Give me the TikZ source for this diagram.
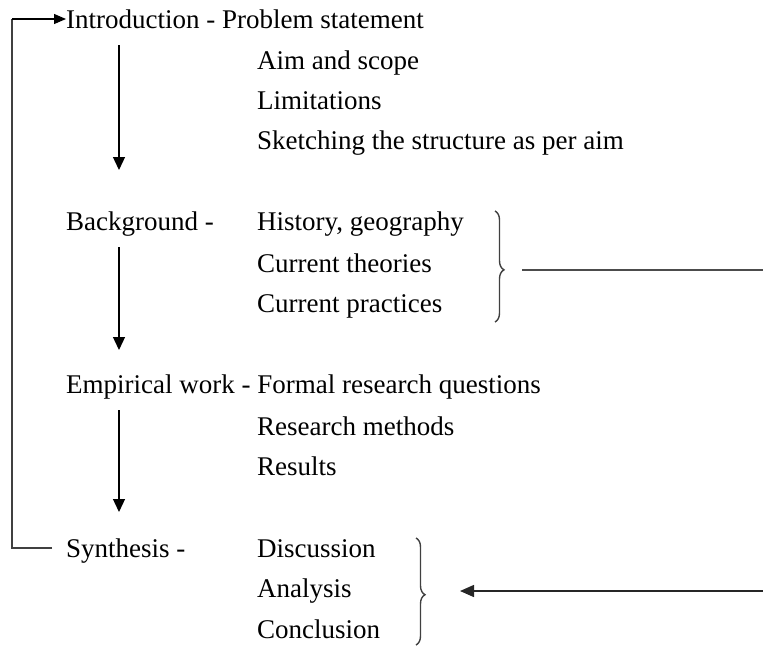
\documentclass[tikz,border=0pt]{standalone}
\usepackage{fontspec}
\setmainfont{Liberation Serif}
\usetikzlibrary{arrows.meta,decorations.pathreplacing}
\begin{document}
\begin{tikzpicture}[x=1pt,y=-1pt,
  txt/.style={anchor=base west,inner sep=0pt,font=\fontsize{27}{32}\selectfont},
  flow/.style={line width=1.3pt,-{Triangle[length=13pt,width=12pt]}},
  loop/.style={line width=1.1pt,draw=black!75},
  br/.style={decorate,decoration={brace,amplitude=9pt,aspect=0.53},line width=1.4pt,draw=black!75},
  link/.style={line width=1.5pt,draw=black!70}]
\useasboundingbox (0,0) rectangle (763,648);
% left column
\node[txt] (intro) at (66,28) {Introduction - Problem statement};
\node[txt] (back) at (66,230) {Background -};
\node[txt] (emp) at (66,393) {Empirical work - Formal research questions};
\node[txt] (syn) at (66,557) {Synthesis -};
% right column
\node[txt] (aim) at (257,69) {Aim and scope};
\node[txt] (lim) at (257,109) {Limitations};
\node[txt] (sk) at (257,149) {Sketching the structure as per aim};
\node[txt] (hist) at (257,230) {History, geography};
\node[txt] (cth) at (257,272) {Current theories};
\node[txt] (cpr) at (257,312) {Current practices};
\node[txt] (rm) at (257,435) {Research methods};
\node[txt] (res) at (257,475) {Results};
\node[txt] (disc) at (257,557) {Discussion};
\node[txt] (ana) at (257,597) {Analysis};
\node[txt] (conc) at (257,638) {Conclusion};
% down arrows
\coordinate (a1s) at (119,45);  \coordinate (a1e) at (119,170);
\coordinate (a2s) at (119,247); \coordinate (a2e) at (119,350);
\coordinate (a3s) at (119,410); \coordinate (a3e) at (119,512);
\draw[flow] (a1s) -- (a1e);
\draw[flow] (a2s) -- (a2e);
\draw[flow] (a3s) -- (a3e);
% loop back
\coordinate (lb) at (52,548);
\coordinate (lc1) at (12,548);
\coordinate (lc2) at (12,19);
\draw[loop] (lb) -- (lc1) -- (lc2);
\draw[line width=1.1pt,-{Triangle[length=12pt,width=10pt]}] (lc2) -- (intro.west |- lc2);
% braces
\coordinate (b1t) at (495,211); \coordinate (b1b) at (495,322);
\draw[br] (b1t) -- (b1b);
\coordinate (b2t) at (416,538); \coordinate (b2b) at (416,645);
\draw[br] (b2t) -- (b2b);
% right connectors
\coordinate (l1s) at (522,270); \coordinate (l1e) at (763,270);
\draw[link] (l1s) -- (l1e);
\coordinate (l2s) at (763,591); \coordinate (l2e) at (460,591);
\draw[line width=1.5pt,draw=black!85,-{Triangle[length=14pt,width=12pt]}] (l2s) -- (l2e);
\end{tikzpicture}
\end{document}
